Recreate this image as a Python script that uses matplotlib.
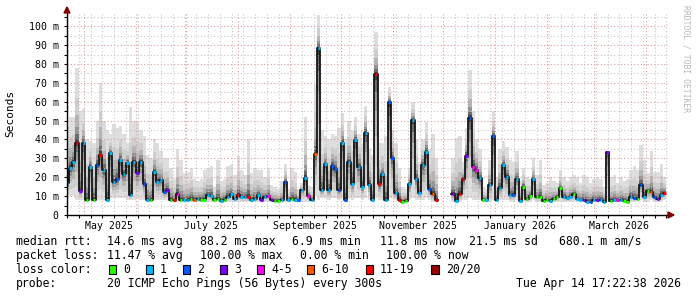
import numpy as np
import matplotlib
matplotlib.use('Agg')
import matplotlib.pyplot as plt
import matplotlib.dates as mdates
from matplotlib.patches import Rectangle, Polygon
from datetime import datetime, timedelta

nan = np.nan

# one sample every 2 days, first sample on 2025-04-21
start = datetime(2025, 4, 21)

median_ms = [
    16.8, 25.0, 28.0, 38.0, 12.7, 37.9, 7.9, 25.6, 7.9, 26.5,
    32.0, 23.8, 7.9, 32.6, 17.6, 18.9, 29.0, 21.5, 27.7, 10.6,
    28.2, 22.0, 28.2, 16.2, 7.9, 7.9, 22.9, 17.6, 18.5, 12.3,
    13.2, 7.9, 7.9, 11.0, 7.9, 8.0, 8.0, 8.5, 8.0, 8.5,
    8.0, 8.0, 10.5, 10.0, 8.0, 8.5, 7.5, 8.0, 9.7, 11.0,
    8.5, 10.8, 9.5, 9.7, 9.5, 8.0, 8.5, 10.5, 8.0, 9.5,
    10.0, 8.0, 7.5, 7.5, 8.0, 17.6, 8.0, 8.5, 8.0, 8.0,
    13.5, 19.4, 10.2, 8.0, 32.4, 88.2, 13.5, 27.0, 13.5, 26.0,
    24.5, 13.0, 38.4, 8.0, 28.3, 16.6, 39.7, 25.6, 15.0, 43.6,
    16.0, 8.0, 74.8, 16.2, 21.5, 8.0, 60.0, 30.0, 11.5, 7.9,
    6.9, 7.5, 16.4, 50.3, 19.3, 11.5, 26.6, 33.6, 14.0, 11.0,
    8.0, nan, nan, nan, nan, 11.0, 7.6, 11.0, 19.0, 31.5,
    51.6, 25.6, 24.0, 19.4, 8.0, 8.0, 16.0, 41.8, 8.0, 14.5,
    26.6, 20.3, 10.4, 10.8, 19.0, 7.6, 15.0, 8.3, 10.0, 19.0,
    9.5, 9.7, 7.2, 8.0, 7.6, 8.5, 9.5, 14.2, 9.7, 8.8,
    9.7, 11.0, 8.5, 8.0, 8.0, 7.1, 7.1, 8.0, 8.0, 8.0,
    7.1, 33.5, 7.6, 8.0, 8.0, 8.0, 7.6, 7.1, 9.7, 8.8,
    8.5, 16.0, 9.7, 12.7, 12.3, 9.7, 8.5, 10.6, 11.8,
]

smoke_hi = [
    47, 52, 52, 78, 55, 56, 40, 39, 38, 50,
    70, 50, 45, 43, 48, 46, 47, 43, 38, 57,
    50, 50, 45, 42, 32, 30, 40, 38, 34, 30,
    30, 25, 19, 35, 29, 22, 23, 25, 19, 18,
    19, 24, 25, 26, 15, 29, 18, 19, 26, 27,
    21, 31, 24, 21, 40, 22, 25, 24, 24, 20,
    25, 16, 15, 14, 18, 27, 14, 25, 23, 14,
    17, 52, 16, 15, 69, 106, 45, 42, 40, 43,
    42, 46, 54, 40, 50, 45, 52, 43, 38, 58,
    35, 32, 97, 38, 38, 42, 68, 45, 38, 25,
    15, 14, 25, 60, 40, 28, 40, 49, 35, 43,
    30, nan, nan, nan, nan, 30, 41, 42, 28, 46,
    77, 55, 40, 35, 15, 14, 29, 55, 20, 35,
    39, 36, 29, 28, 34, 18, 25, 20, 19, 30,
    21, 29, 16, 17, 20, 18, 17, 24, 20, 18,
    20, 21, 20, 17, 21, 20, 17, 19, 20, 19,
    15, 34, 20, 21, 17, 20, 18, 19, 24, 26,
    24, 37, 29, 22, 34, 23, 23, 27, 20,
]

smoke_lo = [
    9, 10, 10, 8, 8, 8, 7, 8, 7, 8,
    8, 8, 7, 9, 9, 9, 9, 9, 8, 8,
    8, 9, 8, 8, 7, 7, 8, 8, 8, 8,
    8, 7, 7, 7, 7, 7, 7, 7, 7, 7,
    7, 7, 7, 7, 7, 7, 7, 7, 7, 7,
    7, 7, 7, 7, 7, 7, 7, 7, 7, 7,
    7, 7, 7, 7, 7, 7, 7, 7, 7, 7,
    7, 7, 7, 7, 10, 8, 9, 9, 8, 9,
    9, 8, 9, 7, 9, 8, 9, 9, 8, 9,
    8, 7, 9, 8, 8, 7, 9, 9, 8, 7,
    6.5, 7, 8, 9, 8, 8, 8, 9, 8, 7,
    7, nan, nan, nan, nan, 7, 7, 7, 8, 8,
    9, 8, 8, 8, 7, 7, 7, 8, 7, 8,
    8, 8, 7, 7, 8, 7, 7, 7, 7, 8,
    7, 7, 7, 7, 7, 7, 7, 7, 7, 7,
    7, 7, 7, 7, 7, 6.5, 6.5, 7, 7, 7,
    6.5, 8, 7, 7, 7, 7, 7, 6.5, 7, 7,
    7, 8, 7, 7, 8, 7, 7, 7, 8,
]

# index into loss_labels / loss_colors
loss_idx = [
    1, 1, 1, 6, 3, 1, 0, 1, 0, 2,
    6, 1, 1, 1, 1, 2, 1, 1, 1, 1,
    1, 3, 1, 2, 1, 0, 1, 1, 1, 2,
    3, 0, 6, 4, 0, 1, 1, 0, 5, 1,
    0, 0, 1, 1, 0, 0, 1, 0, 1, 1,
    1, 6, 1, 1, 6, 1, 1, 1, 3, 1,
    4, 3, 0, 0, 1, 2, 1, 0, 1, 2,
    1, 1, 4, 1, 5, 1, 1, 1, 1, 2,
    2, 2, 1, 2, 1, 1, 1, 1, 1, 1,
    1, 1, 6, 6, 1, 1, 2, 2, 1, 6,
    0, 0, 1, 1, 1, 1, 1, 1, 2, 5,
    6, 0, 0, 0, 0, 3, 1, 6, 6, 3,
    2, 4, 4, 1, 0, 1, 1, 2, 1, 1,
    1, 1, 1, 2, 1, 1, 0, 0, 0, 1,
    0, 0, 0, 0, 1, 0, 0, 0, 1, 1,
    1, 0, 1, 1, 3, 1, 2, 1, 3, 1,
    1, 3, 0, 1, 4, 1, 0, 0, 1, 2,
    0, 2, 1, 0, 5, 2, 3, 1, 6,
]

loss_labels = ['0', '1', '2', '3', '4-5', '6-10', '11-19', '20/20']
loss_colors = ['#26ff00', '#00b8ff', '#0059ff', '#7e00ff',
               '#ff00ff', '#ff5500', '#ff0000', '#a00000']
loss_box_x = [108.5, 145.5, 182.5, 219.5, 256.5, 306.5, 365.5, 431]
loss_text_x = [123, 160, 197, 234, 271, 321, 380, 446]

month_labels = ['May 2025', 'July 2025', 'September 2025',
                'November 2025', 'January 2026', 'March 2026']
month_label_dates = [datetime(2025, 5, 16), datetime(2025, 7, 16), datetime(2025, 9, 16),
                     datetime(2025, 11, 16), datetime(2026, 1, 16), datetime(2026, 3, 16)]

rtt_stats = ['14.6 ms avg', '88.2 ms max', '6.9 ms min', '11.8 ms now', '21.5 ms sd', '680.1 m am/s']
rtt_x = [107, 200, 292.5, 380, 469, 559]
loss_stats = ['11.47 % avg', '100.00 % max', '0.00 % min', '100.00 % now']
loss_x = [107, 200, 300, 386]

W, H = 697, 297
MONO = 'DejaVu Sans Mono'

med = np.array(median_ms, dtype=float)
hi = np.maximum(np.array(smoke_hi, dtype=float), med)
lo = np.minimum(np.array(smoke_lo, dtype=float), med)
t0 = mdates.date2num(start)
t = t0 + 2.0 * np.arange(len(med))

fig = plt.figure(figsize=(W / 100, H / 100), dpi=100)
fig.patch.set_facecolor('white')
ax = fig.add_axes([67 / W, 1 - 215 / H, (668 - 67) / W, (215 - 13) / H])
ax.set_xlim(t0, t0 + 358)
ax.set_ylim(0, 107)

# grid (dotted, red for major, grey for minor), drawn over the smoke
red_grid = '#e39a9a'
grey_grid = '#c8c8c8'
dots = (0, (1, 2))
for v in range(5, 107, 5):
    ax.axhline(v, color=red_grid if v % 10 == 0 else grey_grid, lw=0.8, ls=dots, zorder=2.5)
d = datetime(2025, 4, 21)
while d < datetime(2026, 4, 15):
    x = mdates.date2num(d)
    if d.day == 1:
        ax.axvline(x, color=red_grid, lw=0.8, ls=dots, zorder=2.5)
    elif d.weekday() == 0:
        ax.axvline(x, color=grey_grid, lw=0.8, ls=dots, zorder=2.5)
    d += timedelta(days=1)

# smoke
up_f = [1.0, 0.6, 0.38, 0.22, 0.12, 0.05]
dn_f = [1.0, 0.75, 0.5, 0.3, 0.15, 0.05]
grays = ['#dedede', '#cecece', '#b4b4b4', '#949494', '#6a6a6a', '#404040']
for uf, df, g in zip(up_f, dn_f, grays):
    top = med + uf * (hi - med)
    bot = med - df * (med - lo)
    ax.bar(t, top - bot, bottom=bot, width=2.0, color=g, linewidth=0, zorder=2)

# median line + loss colour marks
ax.plot(t, med, drawstyle='steps-mid', color='#151515', lw=1.3, zorder=3)
ax.hlines(med, t - 0.75, t + 0.75, colors=[loss_colors[i] for i in loss_idx], lw=2.2, zorder=4)

# axes
for s in ['top', 'right']:
    ax.spines[s].set_visible(False)
for s in ['left', 'bottom']:
    ax.spines[s].set_linewidth(1.0)
    ax.spines[s].set_zorder(5)
ax.set_yticks(range(0, 101, 10))
ax.set_yticklabels(['0'] + ['%d m' % v for v in range(10, 101, 10)], family=MONO, fontsize=7.1)
ax.set_yticks(range(5, 107, 10), minor=True)
ax.tick_params(axis='y', which='both', direction='out', length=2, width=0.8, pad=4)
ax.set_xticks(mdates.date2num(month_label_dates))
ax.set_xticklabels(month_labels, family=MONO, fontsize=7.1)
ax.tick_params(axis='x', which='major', length=0, pad=4)
ax.tick_params(axis='x', which='minor', direction='out', length=2, width=0.8)
ax.xaxis.set_minor_locator(mdates.WeekdayLocator(byweekday=mdates.MO))


def fx(x):
    return x / W


def fy(y):
    return 1 - y / H


# arrows at axis ends
arrow_col = '#800000'
fig.patches.append(Polygon([(fx(64), fy(13)), (fx(70), fy(13)), (fx(67), fy(7))],
                           closed=True, color=arrow_col, transform=fig.transFigure))
fig.patches.append(Polygon([(fx(668), fy(212)), (fx(668), fy(218)), (fx(674), fy(215))],
                           closed=True, color=arrow_col, transform=fig.transFigure))

fig.text(fx(10), fy(113), 'Seconds', rotation=90, family=MONO, fontsize=8,
         ha='center', va='center')
fig.text(fx(686), fy(5), 'RRDTOOL / TOBI OETIKER', rotation=270, family=MONO,
         fontsize=5.8, color='#b8b8b8', ha='center', va='top')


def ltext(x, y, s, **kw):
    fig.text(fx(x), fy(y), s, family=MONO, fontsize=8.3, va='center', **kw)


ltext(16, 241.5, 'median rtt:')
for s, x in zip(rtt_stats, rtt_x):
    ltext(x, 241.5, s)
ltext(16, 255.5, 'packet loss:')
for s, x in zip(loss_stats, loss_x):
    ltext(x, 255.5, s)
ltext(16, 269.5, 'loss color:')
for lab, c, bx, tx in zip(loss_labels, loss_colors, loss_box_x, loss_text_x):
    fig.patches.append(Rectangle((fx(bx), fy(273.5)), 7.5 / W, 8.5 / H, facecolor=c,
                                 edgecolor='black', lw=0.8, transform=fig.transFigure))
    ltext(tx, 269.5, lab)
ltext(16, 283.5, 'probe:')
ltext(107, 283.5, '20 ICMP Echo Pings (56 Bytes) every 300s')
ltext(681, 283.5, 'Tue Apr 14 17:22:38 2026', ha='right')

fig.savefig('out.png', dpi=100, facecolor='white')
